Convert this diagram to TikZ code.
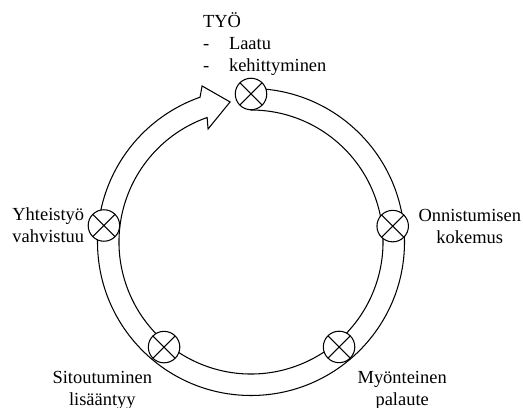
\documentclass[tikz,border=0pt]{standalone}
\usepackage{fontspec}
\setmainfont{Liberation Serif}
\usetikzlibrary{positioning}

\tikzset{
  risti/.style={circle, draw, fill=white, minimum size=0.63cm, inner sep=0pt,
    path picture={\draw (path picture bounding box.north west) -- (path picture bounding box.south east)
                        (path picture bounding box.north east) -- (path picture bounding box.south west);}},
  teksti/.style={inner sep=0pt, align=center, font=\fontsize{10.5}{12.6}\selectfont},
}

\begin{document}
\begin{tikzpicture}[x=0.02cm, y=0.02cm, line width=0.6pt]
\useasboundingbox (-251,-166) rectangle (272,242);
% rengas ja nuoli
\draw (90:153.5) arc[start angle=90, end angle=-250.6, radius=153.5]
  -- (107.4:163.5) -- (98.5:141.6) -- (110.8:120.9)
  -- (109.4:132) arc[start angle=109.4, end angle=450, radius=132] -- cycle;

% vaiheet
\node[risti] (tyo) at (90:148) {};
\node[risti] (onnistuminen) at (6.4:142.6) {};
\node[risti] (palaute) at (-50:137) {};
\node[risti] (sitoutuminen) at (230.4:136.4) {};
\node[risti] (yhteistyo) at (173.6:148) {};

% tekstit
\node[teksti, align=left, above=0.03cm of tyo.north, anchor=south west, xshift=-0.97cm] (tyoteksti)
  {TYÖ\\\makebox[0.52cm][l]{-}Laatu\\\makebox[0.52cm][l]{-}kehittyminen};
\node[teksti, right=0.18cm of onnistuminen] (onnteksti) {Onnistumisen\\kokemus};
\node[teksti, below right=0.24cm and 0.13cm of palaute] (palauteteksti) {Myönteinen\\palaute};
\node[teksti, below left=0.24cm and 0cm of sitoutuminen] (sitteksti) {Sitoutuminen\\lisääntyy};
\node[teksti, left=0.06cm of yhteistyo] (yhteisteksti) {Yhteistyö\\vahvistuu};
\end{tikzpicture}
\end{document}
